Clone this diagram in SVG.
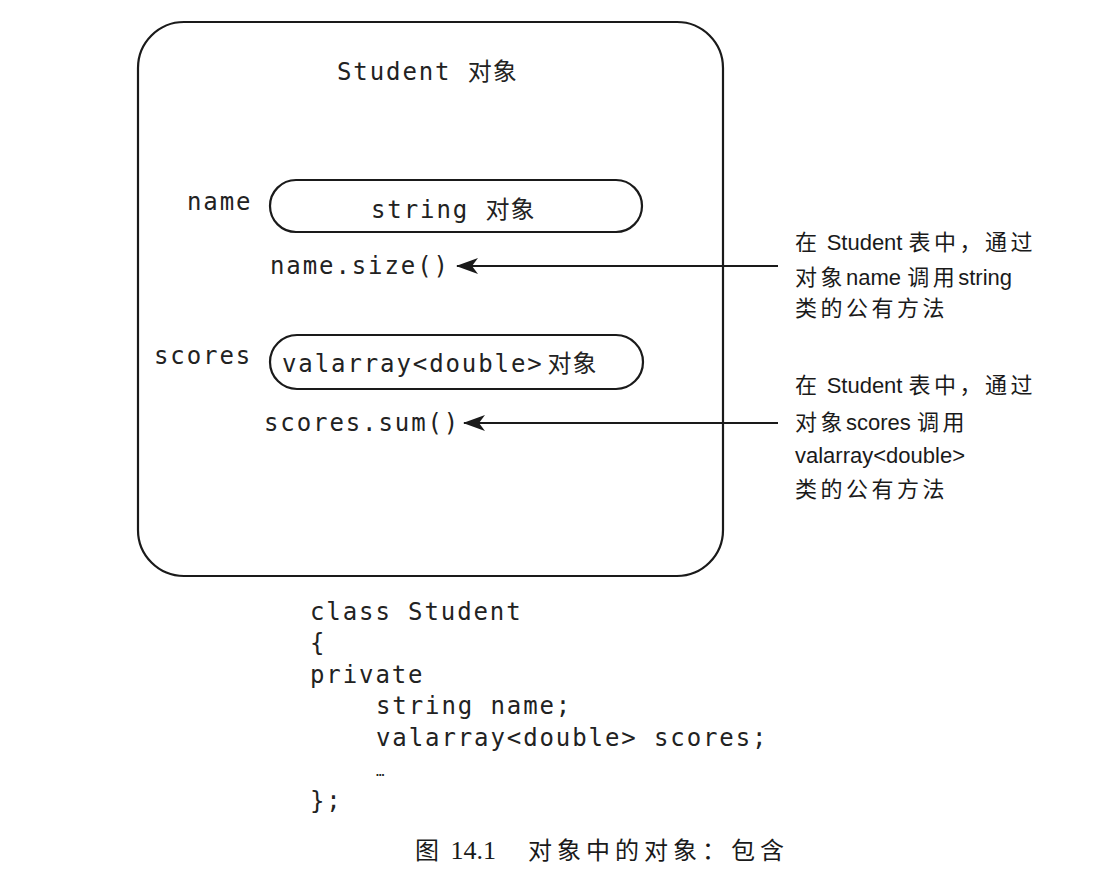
<svg xmlns="http://www.w3.org/2000/svg" width="1110" height="888" viewBox="0 0 1110 888">
<style>
.box{fill:none;stroke:#1a1a1a;stroke-width:2.2}
.mono{font-family:"DejaVu Sans Mono","Liberation Mono","Noto Sans CJK SC",monospace;font-size:24px;letter-spacing:1.9px;fill:#222}
.cjk{font-family:"Noto Sans CJK SC",sans-serif;letter-spacing:1px}
.note{font-family:"Liberation Sans","Noto Sans CJK SC",sans-serif;font-size:22px;fill:#1a1a1a}
.nc{font-family:"Noto Sans CJK SC",sans-serif;letter-spacing:3.5px}
.cap{font-family:"Liberation Serif","Noto Sans CJK SC",serif;font-size:26px;fill:#1a1a1a}
.capc{font-family:"Noto Sans CJK SC",serif;font-size:24px;letter-spacing:5px}
.conn{stroke:#1a1a1a;stroke-width:2;fill:none}
</style>
<defs>
<marker id="arr" viewBox="0 0 22 16" refX="21" refY="8" markerWidth="22" markerHeight="16" markerUnits="userSpaceOnUse" orient="auto">
<path d="M22,8 L0,0 L6,8 L0,16 Z" fill="#1a1a1a"/>
</marker>
</defs>
<g id="student">
<rect class="box" x="138" y="22" width="585" height="554" rx="46" ry="46"/>
<text class="mono" x="337" y="80">Student <tspan class="cjk">对象</tspan></text>
</g>
<g id="name-obj">
<text class="mono" x="187" y="210">name</text>
<rect class="box" x="270" y="180" width="372" height="52" rx="26" ry="26"/>
<text class="mono" x="371" y="218">string <tspan class="cjk">对象</tspan></text>
<text class="mono" x="270" y="274">name.size()</text>
</g>
<g id="scores-obj">
<text class="mono" x="154" y="364">scores</text>
<rect class="box" x="270" y="335" width="373" height="54" rx="27" ry="27"/>
<text class="mono" x="282" y="372">valarray&lt;double&gt;<tspan class="cjk" dx="4">对象</tspan></text>
<text class="mono" x="264" y="431">scores.sum()</text>
</g>
<g id="note1">
<text class="note" x="795" y="250"><tspan class="nc">在</tspan> Student <tspan class="nc">表中，通过</tspan></text>
<text class="note" x="795" y="285"><tspan class="nc">对象</tspan>name <tspan class="nc">调用</tspan>string</text>
<text class="note" x="795" y="316"><tspan class="nc">类的公有方法</tspan></text>
</g>
<g id="note2">
<text class="note" x="795" y="393"><tspan class="nc">在</tspan> Student <tspan class="nc">表中，通过</tspan></text>
<text class="note" x="795" y="430"><tspan class="nc">对象</tspan>scores <tspan class="nc">调用</tspan></text>
<text class="note" x="795" y="463">valarray&lt;double&gt;</text>
<text class="note" x="795" y="497"><tspan class="nc">类的公有方法</tspan></text>
</g>
<g id="connectors">
<line class="conn" x1="778" y1="266" x2="457" y2="266" marker-end="url(#arr)"/>
<line class="conn" x1="778" y1="423" x2="464" y2="423" marker-end="url(#arr)"/>
</g>
<g id="code">
<text class="mono" x="310" y="620">class Student</text>
<text class="mono" x="310" y="651">{</text>
<text class="mono" x="310" y="683">private</text>
<text class="mono" x="376" y="714">string name;</text>
<text class="mono" x="376" y="746">valarray&lt;double&gt; scores;</text>
<text class="mono" x="376" y="776" style="font-size:14px;letter-spacing:0">…</text>
<text class="mono" x="310" y="809">};</text>
</g>
<g id="caption">
<text class="cap" x="415" y="859"><tspan class="capc">图</tspan> 14.1<tspan class="capc" x="528">对象中的对象：包含</tspan></text>
</g>
</svg>
